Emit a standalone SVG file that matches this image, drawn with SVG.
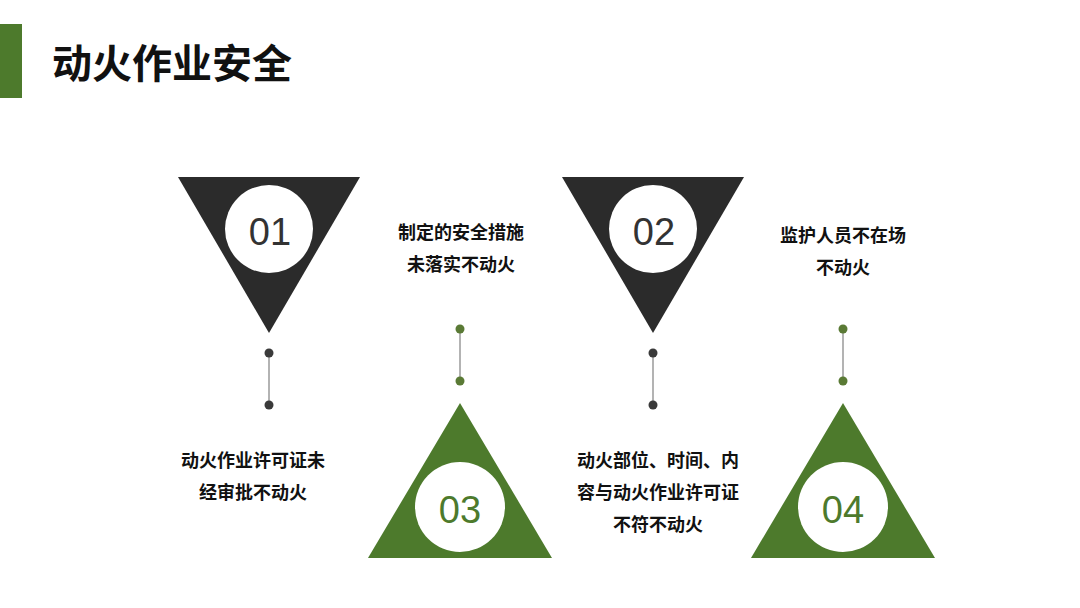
<svg xmlns="http://www.w3.org/2000/svg" width="1080" height="608" viewBox="0 0 1080 608">
<style>
.t{font-family:"Liberation Sans","Noto Sans CJK SC",sans-serif;font-weight:bold;fill:#111;text-anchor:middle;font-size:18px}
.num{font-family:"Liberation Sans","Noto Sans CJK SC",sans-serif;font-size:38px;text-anchor:middle}
.dk{fill:#2b2b2b}
.gr{fill:#4d7a2c}
.ln{stroke:#9a9a9a;stroke-width:1.5}
</style>
<rect width="1080" height="608" fill="#fff"/>
<rect x="0" y="24" width="22" height="74" fill="#4d7a2c"/>
<text x="52" y="78" font-family="'Liberation Sans','Noto Sans CJK SC',sans-serif" font-weight="bold" font-size="40" fill="#111">动火作业安全</text>
<g id="connectors">
<line class="ln" x1="269" y1="353" x2="269" y2="405"/>
<line class="ln" x1="653" y1="353" x2="653" y2="405"/>
<line class="ln" x1="460" y1="329" x2="460" y2="381"/>
<line class="ln" x1="843" y1="329" x2="843" y2="381"/>
<circle cx="269" cy="353" r="4.5" fill="#3a3a3a"/>
<circle cx="269" cy="405" r="4.5" fill="#3a3a3a"/>
<circle cx="653" cy="353" r="4.5" fill="#3a3a3a"/>
<circle cx="653" cy="405" r="4.5" fill="#3a3a3a"/>
<circle cx="460" cy="329" r="4.5" fill="#5a7a35"/>
<circle cx="460" cy="381" r="4.5" fill="#5a7a35"/>
<circle cx="843" cy="329" r="4.5" fill="#5a7a35"/>
<circle cx="843" cy="381" r="4.5" fill="#5a7a35"/>
</g>
<g id="node01">
<polygon class="dk" points="178,177 360,177 269,333"/>
<circle cx="269" cy="229" r="44" fill="#fff"/>
<text class="num" x="270" y="245" fill="#333">01</text>
</g>
<g id="node02">
<polygon class="dk" points="562,177 744,177 653,333"/>
<circle cx="653" cy="229" r="44" fill="#fff"/>
<text class="num" x="654" y="245" fill="#333">02</text>
</g>
<g id="node03">
<polygon class="gr" points="460,403 552,558 368,558"/>
<circle cx="460" cy="507" r="45" fill="#fff"/>
<text class="num" x="460" y="523" fill="#4d7a2c">03</text>
</g>
<g id="node04">
<polygon class="gr" points="843,403 935,558 751,558"/>
<circle cx="843" cy="507" r="45" fill="#fff"/>
<text class="num" x="843" y="523" fill="#4d7a2c">04</text>
</g>
<g id="label01">
<text class="t" x="253" y="467">动火作业许可证未</text>
<text class="t" x="253" y="499">经审批不动火</text>
</g>
<g id="label02">
<text class="t" x="461" y="239">制定的安全措施</text>
<text class="t" x="461" y="271">未落实不动火</text>
</g>
<g id="label03">
<text class="t" x="658" y="467">动火部位、时间、内</text>
<text class="t" x="658" y="499">容与动火作业许可证</text>
<text class="t" x="658" y="531">不符不动火</text>
</g>
<g id="label04">
<text class="t" x="843" y="242">监护人员不在场</text>
<text class="t" x="843" y="274">不动火</text>
</g>
</svg>
